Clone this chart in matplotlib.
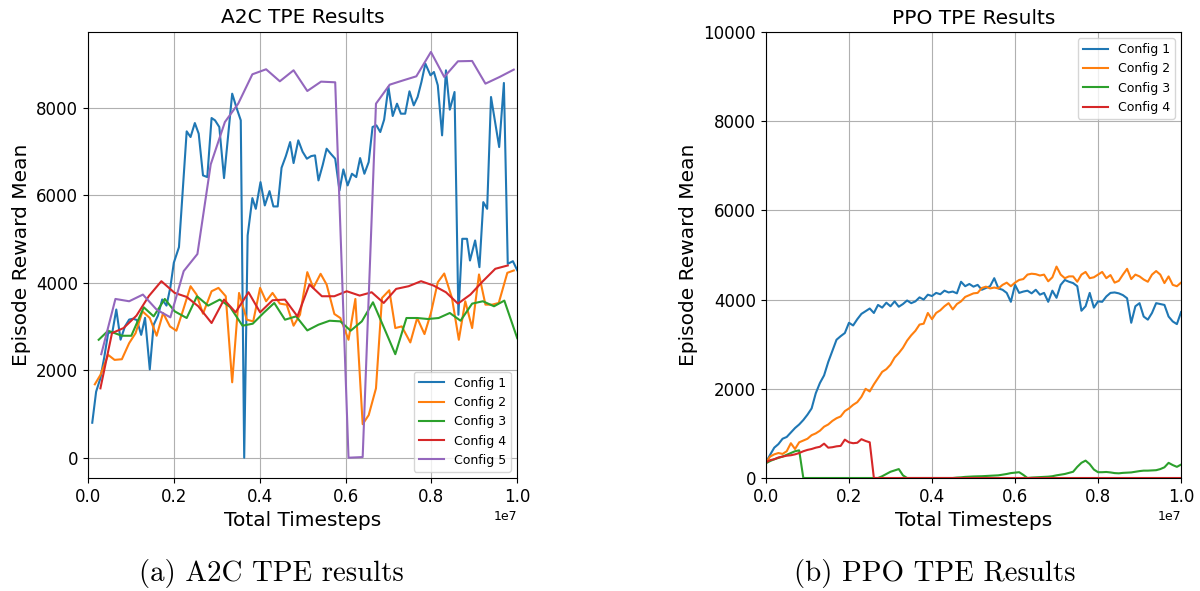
import numpy as np
import matplotlib.pyplot as plt

# A2C TPE runs: timesteps (in units of 1e7) and episode reward mean
a2c_c1_t = [0.010, 0.019, 0.029, 0.038, 0.047, 0.057, 0.066, 0.076, 0.086, 0.096,
            0.105, 0.114, 0.124, 0.133, 0.144, 0.153, 0.163, 0.173, 0.183, 0.192,
            0.200, 0.212, 0.230, 0.239, 0.249, 0.258, 0.268, 0.278, 0.288, 0.296,
            0.306, 0.317, 0.336, 0.346, 0.356, 0.364, 0.372, 0.383, 0.391, 0.402,
            0.412, 0.423, 0.432, 0.442, 0.451, 0.461, 0.471, 0.479, 0.490, 0.500,
            0.510, 0.520, 0.529, 0.537, 0.547, 0.556, 0.566, 0.576, 0.586, 0.595,
            0.605, 0.615, 0.625, 0.634, 0.644, 0.654, 0.663, 0.672, 0.681, 0.690,
            0.700, 0.710, 0.720, 0.729, 0.739, 0.749, 0.759, 0.768, 0.777, 0.786,
            0.798, 0.806, 0.815, 0.825, 0.834, 0.843, 0.854, 0.863, 0.872, 0.883,
            0.890, 0.902, 0.912, 0.921, 0.930, 0.939, 0.958, 0.969, 0.978, 0.990,
            1.000]
a2c_c1_r = [800, 1510, 1820, 2300, 2850, 2880, 3390, 2700, 3000, 3160,
            3180, 3150, 2810, 3200, 2020, 3040, 3250, 3620, 3480, 3900,
            4460, 4817, 7466, 7336, 7656, 7412, 6458, 6420, 7771, 7718,
            7565, 6397, 8328, 8008, 7718, 0, 5084, 5939, 5694, 6305,
            5771, 6099, 5748, 5748, 6633, 6900, 7221, 6740, 7260, 7000,
            6840, 6900, 6916, 6343, 6700, 7069, 6950, 6840, 6114, 6595,
            6229, 6496, 6420, 6855, 6496, 6763, 7565, 7603, 7450, 7733,
            8481, 7817, 8099, 7870, 7870, 8382, 8061, 8252, 8600, 9015,
            8748, 8824, 8519, 7374, 8862, 7962, 8366, 3270, 5008, 5008,
            4511, 4970, 4359, 5847, 5694, 8252, 7107, 8573, 4435, 4496,
            4290]

a2c_c2_t = [0.016, 0.029, 0.047, 0.062, 0.079, 0.096, 0.111, 0.127, 0.144, 0.160,
            0.175, 0.191, 0.206, 0.222, 0.239, 0.253, 0.268, 0.288, 0.304, 0.321,
            0.336, 0.352, 0.370, 0.385, 0.401, 0.415, 0.430, 0.447, 0.463, 0.479,
            0.494, 0.511, 0.525, 0.542, 0.556, 0.574, 0.588, 0.607, 0.623, 0.640,
            0.654, 0.671, 0.685, 0.702, 0.716, 0.731, 0.751, 0.767, 0.784, 0.799,
            0.815, 0.830, 0.848, 0.864, 0.879, 0.895, 0.911, 0.926, 0.942, 0.957,
            0.977, 0.992]
a2c_c2_r = [1679, 1893, 2353, 2238, 2253, 2621, 2851, 3349, 3196, 2790,
            3311, 3004, 2905, 3387, 3923, 3732, 3295, 3808, 3885, 3694,
            1725, 3770, 3157, 3119, 3885, 3579, 3770, 3525, 3500, 3020,
            3272, 4245, 3885, 4207, 3962, 3288, 3196, 2698, 3632, 767,
            974, 1587, 3655, 3831, 2966, 3004, 2637, 3196, 2828, 3311,
            4015, 4214, 3655, 2698, 3579, 2966, 4192, 3502, 3502, 3540,
            4230, 4283]

a2c_c3_t = [0.025, 0.047, 0.062, 0.079, 0.101, 0.130, 0.153, 0.179, 0.202, 0.230,
            0.254, 0.280, 0.307, 0.331, 0.360, 0.384, 0.409, 0.434, 0.459, 0.485,
            0.511, 0.537, 0.563, 0.588, 0.612, 0.638, 0.664, 0.690, 0.716, 0.742,
            0.767, 0.792, 0.817, 0.843, 0.868, 0.895, 0.920, 0.946, 0.970, 1.000]
a2c_c3_r = [2698, 2905, 2851, 2790, 2790, 3441, 3234, 3632, 3349, 3196,
            3694, 3479, 3617, 3450, 3020, 3066, 3311, 3540, 3157, 3234,
            2912, 3043, 3134, 3119, 2905, 3119, 3556, 2966, 2368, 3196,
            3196, 3173, 3196, 3311, 3134, 3525, 3579, 3464, 3594, 2736]

a2c_c4_t = [0.029, 0.056, 0.083, 0.113, 0.142, 0.171, 0.202, 0.230, 0.257, 0.288,
            0.317, 0.344, 0.374, 0.401, 0.430, 0.459, 0.488, 0.516, 0.545, 0.574,
            0.603, 0.633, 0.661, 0.689, 0.718, 0.747, 0.776, 0.805, 0.834, 0.862,
            0.891, 0.920, 0.949, 0.978]
a2c_c4_r = [1587, 2851, 2966, 3250, 3700, 4038, 3770, 3678, 3464, 3081,
            3617, 3326, 3785, 3326, 3602, 3617, 3234, 3962, 3694, 3694,
            3808, 3709, 3785, 3540, 3862, 3923, 4038, 3939, 3785, 3525,
            3732, 4038, 4322, 4398]

a2c_c5_t = [0.031, 0.064, 0.096, 0.128, 0.160, 0.192, 0.223, 0.255, 0.286, 0.319,
            0.350, 0.383, 0.415, 0.447, 0.479, 0.511, 0.543, 0.576, 0.607, 0.640,
            0.671, 0.703, 0.735, 0.765, 0.799, 0.830, 0.862, 0.895, 0.926, 0.959,
            0.992]
a2c_c5_r = [2368, 3632, 3579, 3732, 3387, 3211, 4268, 4660, 6710, 7679,
            8099, 8771, 8886, 8611, 8863, 8389, 8603, 8588, 0, 15,
            8099, 8534, 8634, 8725, 9282, 8710, 9069, 9076, 8557, 8710,
            8878]

# PPO TPE runs, sampled every 0.01e7 timesteps
ppo_t = np.linspace(0, 1.0, 101)
ppo_c1 = [350, 520, 680, 760, 880, 920, 1020, 1120, 1200, 1300,
          1420, 1560, 1900, 2130, 2300, 2600, 2850, 3100, 3180, 3250,
          3480, 3420, 3560, 3680, 3740, 3800, 3700, 3880, 3820, 3930,
          3850, 3960, 3840, 3900, 3980, 3920, 3960, 4050, 4000, 4110,
          4080, 4150, 4120, 4200, 4160, 4180, 4140, 4400, 4300, 4350,
          4290, 4330, 4220, 4260, 4300, 4480, 4250, 4220, 4150, 3950,
          4330, 4150, 4180, 4200, 4140, 4220, 4110, 4150, 3950, 4200,
          4040, 4330, 4440, 4400, 4370, 4300, 3750, 3850, 4150, 3820,
          3960, 3950, 4070, 4150, 4160, 4140, 4100, 4030, 3480, 3850,
          3920, 3620, 3550, 3700, 3920, 3900, 3880, 3620, 3510, 3450,
          3720]
ppo_c2 = [350, 480, 530, 560, 540, 600, 780, 650, 800, 840,
          880, 960, 1000, 1060, 1150, 1200, 1280, 1340, 1380, 1500,
          1560, 1640, 1700, 1820, 2000, 1940, 2100, 2240, 2380, 2440,
          2540, 2700, 2800, 2920, 3080, 3200, 3300, 3440, 3460, 3700,
          3560, 3700, 3760, 3850, 3920, 3780, 3900, 3960, 4060, 4100,
          4140, 4150, 4260, 4290, 4250, 4270, 4250, 4330, 4380, 4300,
          4380, 4440, 4460, 4560, 4580, 4570, 4540, 4560, 4410, 4500,
          4740, 4560, 4480, 4520, 4520, 4400, 4560, 4620, 4480, 4500,
          4560, 4620, 4480, 4550, 4380, 4420, 4560, 4690, 4460, 4560,
          4520, 4450, 4400, 4560, 4640, 4560, 4370, 4520, 4330, 4300,
          4380]
ppo_c3 = [330, 380, 420, 450, 480, 520, 560, 600, 620, 0,
          0, 0, 0, 0, 0, 0, 0, 0, 0, 0,
          0, 0, 0, 0, 0, 0, 0, 0, 40, 90,
          140, 170, 200, 60, 0, 0, 0, 0, 0, 0,
          0, 0, 0, 0, 0, 0, 10, 15, 25, 30,
          35, 38, 40, 45, 50, 55, 60, 75, 90, 110,
          120, 130, 70, 0, 10, 15, 20, 25, 30, 40,
          60, 75, 90, 115, 140, 250, 340, 390, 310, 190,
          130, 130, 135, 125, 110, 105, 115, 120, 125, 140,
          155, 165, 165, 170, 175, 200, 240, 340, 290, 250,
          300]
ppo_c4 = [350, 400, 420, 460, 480, 500, 510, 530, 560, 600,
          630, 650, 680, 700, 770, 680, 690, 710, 720, 860,
          800, 780, 790, 870, 830, 800] + [0] * 75

a2c_runs = [(a2c_c1_t, a2c_c1_r), (a2c_c2_t, a2c_c2_r), (a2c_c3_t, a2c_c3_r),
            (a2c_c4_t, a2c_c4_r), (a2c_c5_t, a2c_c5_r)]
ppo_runs = [ppo_c1, ppo_c2, ppo_c3, ppo_c4]

fig = plt.figure(figsize=(12, 5.91), dpi=100)

ax1 = fig.add_axes([0.0733, 0.1912, 0.3577, 0.7552])
for i, (t, r) in enumerate(a2c_runs):
    ax1.plot(np.array(t) * 1e7, r, lw=1.5, label='Config %d' % (i + 1))
ax1.set_xlim(0, 1e7)
ax1.grid(True)
ax1.set_title('A2C TPE Results', fontsize=14.5)
ax1.set_xlabel('Total Timesteps', fontsize=14.5)
ax1.set_ylabel('Episode Reward Mean', fontsize=14.5)
ax1.tick_params(labelsize=12)
ax1.xaxis.get_offset_text().set_fontsize(9)
ax1.legend(loc='lower right', fontsize=9)

ax2 = fig.add_axes([0.6383, 0.1912, 0.3459, 0.7547])
for i, r in enumerate(ppo_runs):
    ax2.plot(ppo_t * 1e7, r, lw=1.5, label='Config %d' % (i + 1))
ax2.set_xlim(0, 1e7)
ax2.set_ylim(0, 10000)
ax2.grid(True)
ax2.set_title('PPO TPE Results', fontsize=14.5)
ax2.set_xlabel('Total Timesteps', fontsize=14.5)
ax2.set_ylabel('Episode Reward Mean', fontsize=14.5)
ax2.tick_params(labelsize=12)
ax2.xaxis.get_offset_text().set_fontsize(9)
ax2.legend(loc='upper right', fontsize=9)

# subfigure captions
fig.text(0.2258, 0.03, '(a) A2C TPE results', ha='center', va='center',
         fontsize=20.8, family='cmr10')
fig.text(0.779, 0.03, '(b) PPO TPE Results', ha='center', va='center',
         fontsize=20.8, family='cmr10')

fig.savefig('out.png', dpi=100)
